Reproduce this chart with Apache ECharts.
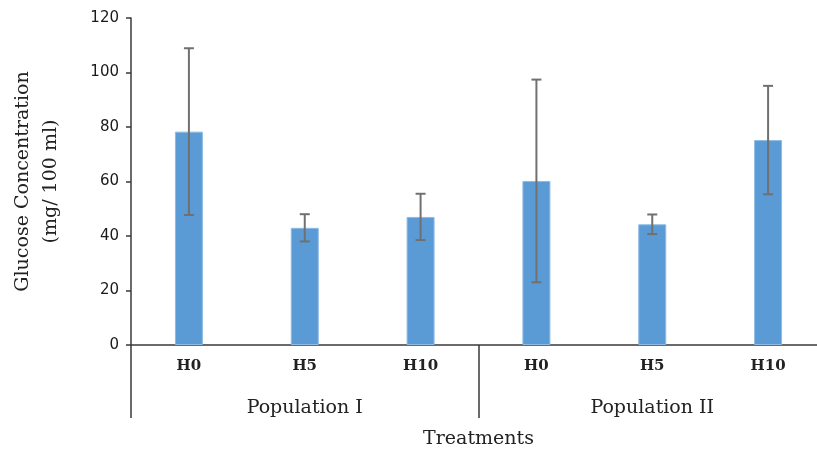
<!DOCTYPE html>
<html><head><meta charset="utf-8">
<script src="https://cdn.jsdelivr.net/npm/echarts@6/dist/echarts.min.js"></script>
<style>html,body{margin:0;padding:0;background:#fff}#c{width:817px;height:453px}</style>
</head><body><div id="c"></div>
<script>
const categories = ['H0','H5','H10','H0','H5','H10'];
const groups = ['Population I','Population II'];
const means = [78.3, 43, 47, 60.2, 44.3, 75.2];
const errors = [30.6, 5, 8.5, 37.2, 3.6, 19.9];
const yTicks = [0, 20, 40, 60, 80, 100, 120];

const chart = echarts.init(document.getElementById('c'), null, {renderer:'canvas'});
const axisColor = '#3a3a3a';
const serif = 'DejaVu Serif';
chart.setOption({
  animation: false,
  grid: {left: 131, right: -9, top: 18, bottom: 108, containLabel: false, outerBoundsMode: 'none'},
  xAxis: [
    {type: 'category', data: categories, position: 'bottom',
     axisLine: {lineStyle: {color: axisColor, width: 1.5}},
     axisTick: {show: false},
     axisLabel: {color: '#222', fontFamily: serif, fontSize: 15, fontWeight: 'bold', margin: 14}},
    {type: 'category', data: groups, position: 'bottom', offset: 0,
     axisLine: {show: false},
     axisTick: {show: true, length: 73, interval: 0, lineStyle: {color: axisColor, width: 1.5}},
     axisLabel: {color: '#222', fontFamily: serif, fontSize: 19, margin: 54},
     name: 'Treatments', nameLocation: 'middle', nameGap: 85,
     nameTextStyle: {color: '#222', fontFamily: serif, fontSize: 19}}
  ],
  yAxis: {type: 'value', min: yTicks[0], max: yTicks[yTicks.length-1], interval: 20,
    axisLine: {show: true, lineStyle: {color: axisColor, width: 1.5}},
    axisTick: {show: true, length: 5, lineStyle: {color: axisColor, width: 1.5}},
    splitLine: {show: false},
    axisLabel: {color: '#1a1a1a', fontFamily: 'DejaVu Sans', fontSize: 15, margin: 12},
    name: 'Glucose Concentration\n(mg/ 100 ml)', nameLocation: 'middle', nameGap: 66,
    nameTextStyle: {color: '#222', fontFamily: serif, fontSize: 19, lineHeight: 28}},
  series: [
    {type: 'bar', data: means, xAxisIndex: 0, barWidth: 28,
     itemStyle: {color: '#5B9BD5', borderColor: '#8fbbe4', borderWidth: 1}},
    {type: 'custom', xAxisIndex: 0, z: 5,
     data: means.map((m, i) => [i, m - errors[i], m + errors[i]]),
     renderItem: function (params, api) {
       const x = api.value(0);
       const lo = api.coord([x, api.value(1)]);
       const hi = api.coord([x, api.value(2)]);
       const hw = 5;
       const st = {stroke: '#707070', lineWidth: 2};
       return {type: 'group', children: [
         {type: 'line', shape: {x1: lo[0], y1: lo[1], x2: hi[0], y2: hi[1]}, style: st},
         {type: 'line', shape: {x1: hi[0]-hw, y1: hi[1], x2: hi[0]+hw, y2: hi[1]}, style: st},
         {type: 'line', shape: {x1: lo[0]-hw, y1: lo[1], x2: lo[0]+hw, y2: lo[1]}, style: st}
       ]};
     }}
  ]
});
</script></body></html>
